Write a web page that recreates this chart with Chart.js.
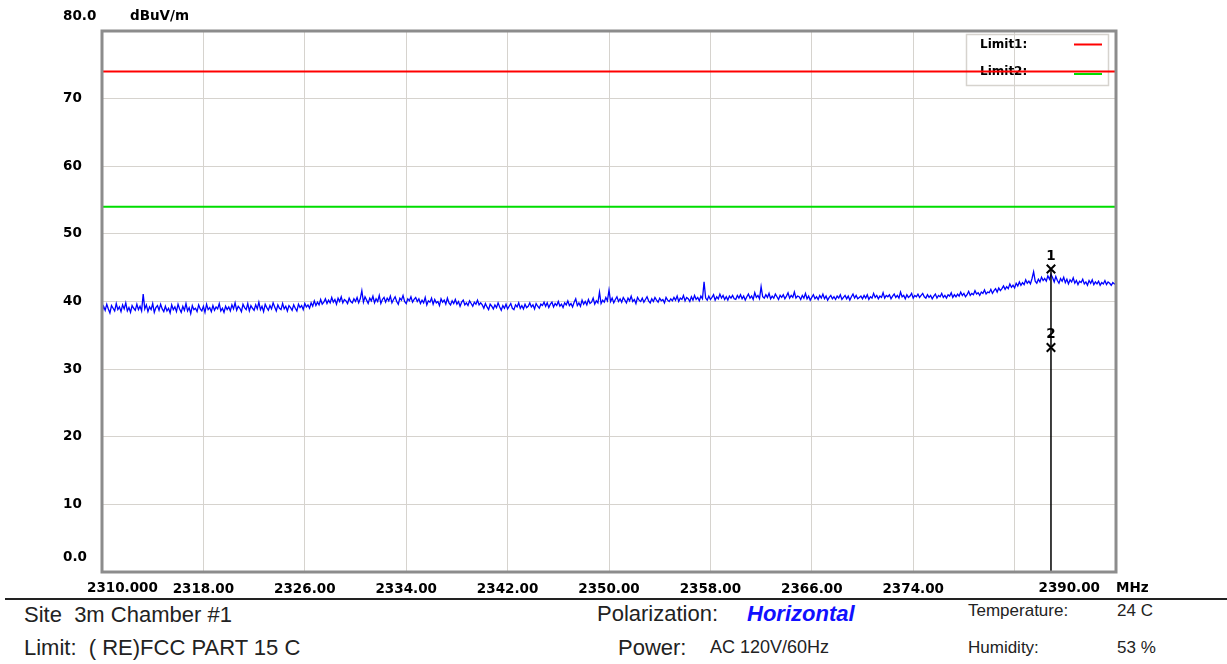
<!DOCTYPE html>
<html>
<head>
<meta charset="utf-8">
<script src="https://cdn.jsdelivr.net/npm/chart.js@4/dist/chart.umd.min.js"></script>
<style>
  body { margin: 0; width: 1227px; height: 664px; background: #fff; overflow: hidden; position: relative; font-family: "Liberation Sans", Arial, sans-serif; color: #222; }
  #chart { position: absolute; left: 0; top: 0; }
  .sep { position: absolute; left: 5px; top: 598px; width: 1222px; height: 0; border-top: 2px solid #222; }
  .t { position: absolute; white-space: pre; line-height: 1; }
  .big { font-size: 22px; }
  .mid { font-size: 18px; }
  .sm { font-size: 17px; }
  .pol { font-weight: bold; font-style: italic; color: #1010ff; }
</style>
</head>
<body>
<canvas id="chart" width="1227" height="600"></canvas>
<div class="sep"></div>
<div class="t big" style="left:24px; top:604px;">Site  3m Chamber #1</div>
<div class="t big" style="left:24px; top:637px;">Limit:  ( RE)FCC PART 15 C</div>
<div class="t big" style="left:597px; top:603px;">Polarization:</div>
<div class="t big pol" style="left:747px; top:603px;">Horizontal</div>
<div class="t big" style="left:618px; top:637px;">Power:</div>
<div class="t mid" style="left:710px; top:638px;">AC 120V/60Hz</div>
<div class="t sm" style="left:968px; top:602px;">Temperature:</div>
<div class="t sm" style="left:1117px; top:602px;">24 C</div>
<div class="t sm" style="left:968px; top:639px;">Humidity:</div>
<div class="t sm" style="left:1117px; top:639px;">53 %</div>

<script>
// sweep 2310 - 2390 MHz, one reading every 0.125 MHz
const freqStart = 2310;
const freqStep = 0.125;
const level = [
  // 2310 - 2315
  38.4,39.3,38.7,39.6,38.9,38.3,39.4,39.0,38.6,39.7,
  38.8,39.2,38.5,39.5,38.9,39.8,38.6,39.1,38.4,39.4,
  39.0,38.7,39.6,38.8,39.3,38.6,41.1,38.9,39.5,38.5,
  39.2,38.8,39.7,38.4,39.1,39.4,38.7,39.6,38.9,38.5,
  // 2315 - 2320
  39.3,38.6,39.0,38.3,39.5,38.8,39.2,38.5,39.6,38.9,
  38.4,39.3,38.7,39.7,38.6,39.1,38.2,39.4,38.8,39.0,
  38.5,39.5,38.9,38.6,39.3,38.4,39.6,38.8,39.1,38.5,
  39.4,38.7,39.2,38.9,39.7,38.6,39.0,38.4,39.3,38.8,
  // 2320 - 2325
  39.2,38.6,39.5,38.9,39.8,38.7,39.3,39.0,38.5,39.6,
  39.1,38.8,39.7,38.6,39.4,39.0,38.7,39.5,38.9,39.9,
  38.8,39.3,38.5,39.6,39.1,38.7,39.4,38.9,39.8,39.2,
  38.6,39.5,39.0,38.8,39.7,38.9,39.3,38.6,39.4,39.1,
  // 2325 - 2330
  38.7,39.5,39.0,38.6,39.6,39.1,39.4,38.8,39.7,39.2,
  39.5,39.0,39.8,39.3,40.1,39.4,39.9,39.5,40.3,39.6,
  39.9,40.4,39.7,40.2,39.8,40.6,39.9,40.3,39.6,40.5,
  40.0,40.7,39.8,40.3,40.1,39.7,40.5,40.0,39.8,40.4,
  // 2330 - 2335
  40.0,40.6,39.8,40.4,41.6,39.9,40.7,40.2,39.7,40.5,
  40.1,40.8,39.8,40.4,40.0,40.9,39.7,40.3,40.6,39.9,
  40.5,40.1,40.8,39.8,40.3,40.7,40.0,39.6,40.5,40.2,
  40.9,40.0,39.7,40.4,40.1,40.7,39.9,40.3,40.6,40.0,
  // 2335 - 2340
  40.4,39.7,40.2,39.8,40.6,39.5,40.1,39.9,40.5,39.6,
  40.3,39.8,40.0,39.4,40.4,39.9,40.2,39.6,40.5,39.8,
  39.5,40.1,39.7,40.3,39.6,40.0,39.3,39.9,40.2,39.5,
  39.8,39.4,40.1,39.7,39.3,39.9,39.6,40.2,39.5,39.8,
  // 2340 - 2345
  39.5,39.0,39.7,39.2,38.8,39.6,39.3,38.9,39.5,39.1,
  39.8,39.2,38.7,39.4,39.0,39.6,38.9,39.3,39.7,39.0,
  38.8,39.5,39.2,39.8,39.0,39.4,38.9,39.6,39.1,39.3,
  39.8,39.2,39.5,38.9,39.7,39.3,39.0,39.6,39.4,39.9,
  // 2345 - 2350
  39.3,39.8,39.1,39.6,39.9,39.2,39.7,39.4,40.0,39.3,
  39.6,39.1,39.8,39.5,40.1,39.4,39.7,39.2,39.9,40.4,
  39.4,39.8,39.3,40.2,39.6,40.0,39.5,40.3,39.7,39.9,
  40.5,39.6,40.1,39.8,41.4,39.7,40.2,39.9,40.6,40.1,
  // 2350 - 2355
  41.7,40.0,40.5,39.8,40.3,40.7,40.0,40.4,39.9,40.6,
  40.2,39.8,40.5,40.1,40.8,40.0,40.3,39.7,40.6,40.2,
  40.0,40.5,39.9,40.3,40.7,40.1,39.8,40.4,40.0,40.6,
  40.2,39.9,40.5,40.1,40.3,39.8,40.6,40.2,40.0,40.4,
  // 2355 - 2360
  40.1,40.6,40.2,40.8,40.0,40.5,40.3,40.9,40.1,40.6,
  40.4,40.0,40.7,40.2,40.9,40.3,40.6,40.1,40.8,40.4,
  42.9,40.5,40.2,40.8,40.3,40.6,41.0,40.2,40.7,40.4,
  41.1,40.5,40.9,40.3,40.7,40.2,40.8,40.5,40.9,40.4,
  // 2360 - 2365
  40.3,40.9,40.5,41.0,40.4,40.8,40.2,40.7,41.1,40.5,
  40.8,40.3,41.3,40.6,40.9,40.4,42.2,40.7,40.5,41.0,
  40.6,41.2,40.4,40.8,40.5,41.1,40.7,40.3,40.9,40.6,
  41.0,40.4,40.8,41.3,40.5,40.9,40.6,41.4,40.5,40.8,
  // 2365 - 2370
  40.7,40.3,40.9,40.5,41.2,40.4,40.8,40.2,40.6,41.0,
  40.4,40.7,40.3,40.9,40.5,41.1,40.4,40.8,40.2,40.6,
  40.9,40.4,40.7,40.3,40.8,40.5,41.0,40.3,40.6,40.9,
  40.4,40.8,40.2,40.7,41.1,40.5,40.9,40.4,40.6,40.8,
  // 2370 - 2375
  40.4,40.9,40.5,41.0,40.3,40.7,40.5,41.2,40.6,40.9,
  40.4,40.8,40.6,41.3,40.5,40.9,40.7,41.0,40.4,40.8,
  41.1,40.6,40.9,40.5,41.4,40.7,40.9,40.4,41.0,40.6,
  40.8,41.2,40.5,40.9,40.7,41.1,40.6,40.9,41.2,40.7,
  // 2375 - 2380
  40.5,41.0,40.6,40.9,40.4,40.8,41.1,40.5,40.9,40.7,
  41.2,40.6,40.9,40.5,41.0,40.8,41.3,40.6,41.0,40.7,
  41.1,40.8,41.4,40.9,41.2,40.7,41.0,41.5,40.9,41.2,
  41.0,41.6,41.1,41.3,40.9,41.4,41.2,41.7,41.1,41.4,
  // 2380 - 2385
  41.3,41.8,41.2,41.6,41.9,41.4,42.0,41.6,41.9,42.3,
  41.8,42.2,41.9,42.6,42.1,42.4,42.0,42.7,42.3,42.9,
  42.4,42.8,42.5,43.2,42.7,43.0,42.6,43.4,44.4,43.0,
  42.7,43.3,42.9,43.6,43.1,43.4,43.0,43.8,43.3,44.0,
  // 2385 - 2390
  43.5,42.9,43.7,43.1,42.7,43.4,43.0,43.6,42.8,43.3,
  42.6,43.2,42.9,43.5,42.7,43.1,42.5,43.0,42.8,43.3,
  42.6,42.9,42.4,43.1,42.7,43.2,42.5,42.9,42.6,43.0,
  42.4,42.8,42.6,43.1,42.5,42.9,42.7,42.4,42.8,42.6,42.7
];

const limit1 = 74;
const limit2 = 54;

const markerFreq = 2384.87;
const markerLevels = [44.8, 33.2];
const markerNames = ['1', '2'];

const xTicks = [2310, 2318, 2326, 2334, 2342, 2350, 2358, 2366, 2374, 2382, 2390];
const xTickLabels = ['2310.000', '2318.00', '2326.00', '2334.00', '2342.00', '2350.00', '2358.00', '2366.00', '2374.00', '', '2390.00'];
const yTicks = [0, 10, 20, 30, 40, 50, 60, 70, 80];
const yTickLabels = ['0.0', '10', '20', '30', '40', '50', '60', '70', '80.0'];

const tickFont = { family: 'DejaVu Sans', size: 13.5, weight: 'bold' };
const gridColor = '#d6d3ce';

const trace = level.map((v, i) => ({ x: freqStart + i * freqStep, y: v }));

// texts and frame that sit outside the normal tick places
const extras = {
  id: 'extras',
  beforeDatasetsDraw(chart) {
    const ctx = chart.ctx;
    ctx.save();
    // legend box (limit lines run over it)
    ctx.strokeStyle = gridColor;
    ctx.lineWidth = 1.5;
    ctx.strokeRect(966.5, 34.5, 142, 51);
    ctx.fillStyle = '#000';
    ctx.font = 'bold 12px "DejaVu Sans"';
    ctx.textBaseline = 'middle';
    ctx.fillText('Limit1:', 980, 45);
    ctx.fillText('Limit2:', 980, 72);
    ctx.lineWidth = 2;
    ctx.strokeStyle = '#ff0000';
    ctx.beginPath(); ctx.moveTo(1074, 44.5); ctx.lineTo(1102, 44.5); ctx.stroke();
    ctx.strokeStyle = '#00dd00';
    ctx.beginPath(); ctx.moveTo(1074, 74); ctx.lineTo(1102, 74); ctx.stroke();
    ctx.restore();
  },
  afterDraw(chart) {
    const ctx = chart.ctx;
    const a = chart.chartArea;
    const xs = chart.scales.x;
    const ys = chart.scales.y;
    ctx.save();
    ctx.strokeStyle = '#8c8c8c';
    ctx.lineWidth = 3;
    ctx.strokeRect(a.left, a.top, a.right - a.left, a.bottom - a.top);

    ctx.fillStyle = '#000';
    ctx.font = 'bold 13.5px "DejaVu Sans"';
    ctx.textBaseline = 'middle';
    ctx.textAlign = 'left';
    ctx.fillText(yTickLabels[yTickLabels.length - 1], 63, ys.getPixelForValue(80) - 15);
    ctx.fillText('dBuV/m', 130, ys.getPixelForValue(80) - 15);
    ctx.fillText(yTickLabels[0], 63, ys.getPixelForValue(0) - 15);

    const ly = a.bottom + 16;
    ctx.fillText(xTickLabels[0], xs.getPixelForValue(xTicks[0]) - 15, ly);
    ctx.textAlign = 'right';
    ctx.fillText(xTickLabels[xTickLabels.length - 1], xs.getPixelForValue(xTicks[xTicks.length - 1]) - 16, ly);
    ctx.textAlign = 'left';
    ctx.fillText('MHz', xs.getPixelForValue(xTicks[xTicks.length - 1]), ly);

    // marker numbers
    ctx.textAlign = 'center';
    const mx = xs.getPixelForValue(markerFreq);
    markerLevels.forEach((v, i) => {
      ctx.fillText(markerNames[i], mx, ys.getPixelForValue(v) - 13);
    });
    ctx.restore();
  }
};

new Chart(document.getElementById('chart'), {
  type: 'scatter',
  data: {
    datasets: [
      {
        label: 'markers',
        data: markerLevels.map(v => ({ x: markerFreq, y: v })),
        showLine: false,
        pointStyle: 'crossRot',
        pointRadius: 6,
        borderColor: '#000',
        borderWidth: 2
      },
      {
        label: 'marker line',
        data: [{ x: markerFreq, y: markerLevels[0] }, { x: markerFreq, y: 0 }],
        showLine: true,
        borderColor: '#000',
        borderWidth: 1.5,
        pointRadius: 0
      },
      {
        label: 'level',
        data: trace,
        showLine: true,
        borderColor: '#0000ff',
        borderWidth: 1.3,
        pointRadius: 0
      },
      {
        label: 'Limit1',
        data: [{ x: 2310, y: limit1 }, { x: 2390, y: limit1 }],
        showLine: true,
        borderColor: '#ff0000',
        borderWidth: 2,
        pointRadius: 0
      },
      {
        label: 'Limit2',
        data: [{ x: 2310, y: limit2 }, { x: 2390, y: limit2 }],
        showLine: true,
        borderColor: '#00dd00',
        borderWidth: 2,
        pointRadius: 0
      }
    ]
  },
  options: {
    responsive: false,
    animation: false,
    devicePixelRatio: 1,
    layout: { padding: { left: 63, top: 31, right: 111, bottom: 0 } },
    plugins: { legend: { display: false }, tooltip: { enabled: false } },
    scales: {
      x: {
        type: 'linear',
        min: 2310,
        max: 2390,
        afterBuildTicks(scale) { scale.ticks = xTicks.map(v => ({ value: v })); },
        afterFit(scale) { scale.height = 28; },
        ticks: {
          autoSkip: false,
          maxRotation: 0,
          padding: 9,
          color: '#000',
          font: tickFont,
          callback: (v, i) => (i === 0 || i === xTicks.length - 1) ? '' : xTickLabels[i]
        },
        grid: { color: gridColor, drawTicks: false },
        border: { display: false }
      },
      y: {
        min: 0,
        max: 80,
        afterBuildTicks(scale) { scale.ticks = yTicks.map(v => ({ value: v })); },
        afterFit(scale) { scale.width = 39; },
        ticks: {
          crossAlign: 'far',
          color: '#000',
          font: tickFont,
          callback: (v, i) => (i === 0 || i === yTicks.length - 1) ? '' : yTickLabels[i]
        },
        grid: { color: gridColor, drawTicks: false },
        border: { display: false }
      }
    }
  },
  plugins: [extras]
});
</script>
</body>
</html>
